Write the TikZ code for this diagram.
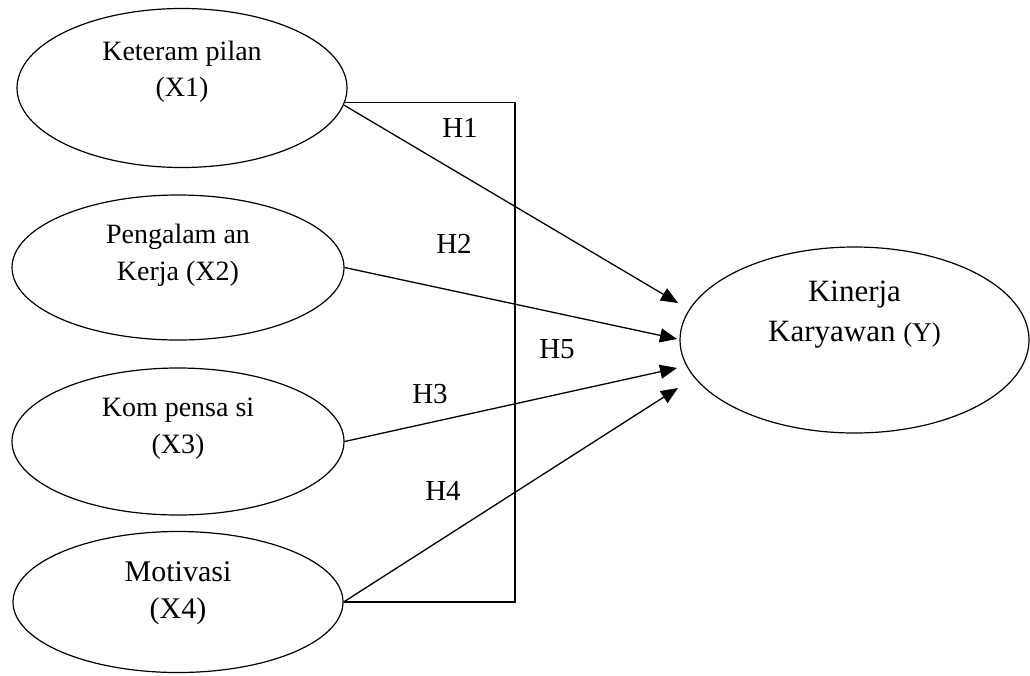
\documentclass[tikz,border=0pt]{standalone}
\usepackage{fontspec}
\setmainfont{Liberation Serif}
\usetikzlibrary{shapes.geometric,arrows.meta}
\tikzset{
  var/.style={ellipse, draw, line width=1.2pt, inner sep=0pt},
  arr/.style={line width=1.3pt, -{Triangle[length=17pt,width=14pt]}},
  brk/.style={line width=1.3pt},
  hlab/.style={anchor=base, font=\fontsize{29}{35}\selectfont, inner sep=0pt},
}
\newcommand{\twolines}[2]{\begin{tabular}[t]{@{}c@{}}#1\\#2\end{tabular}}
\begin{document}
\begin{tikzpicture}[x=1pt,y=-1pt]
\useasboundingbox (0,0) rectangle (1030,675);
\node[var, minimum width=330pt, minimum height=159pt,
  label={[anchor=base, yshift=17pt, font=\fontsize{28}{36}\selectfont]center:{\twolines{Keteram pilan}{(X1)}}}] (X1) at (182,88) {};
\node[var, minimum width=332pt, minimum height=145pt,
  label={[anchor=base, yshift=12.5pt, font=\fontsize{28}{37}\selectfont]center:{\twolines{Pengalam an}{Kerja (X2)}}}] (X2) at (178,267.5) {};
\node[var, minimum width=332pt, minimum height=147pt,
  label={[anchor=base, yshift=13.5pt, font=\fontsize{28}{37}\selectfont]center:{\twolines{Kom pensa si}{(X3)}}}] (X3) at (178,441.5) {};
\node[var, minimum width=330pt, minimum height=141pt,
  label={[anchor=base, yshift=9pt, font=\fontsize{30}{37}\selectfont]center:{\twolines{Motivasi}{(X4)}}}] (X4) at (178,602) {};
\node[var, minimum width=349pt, minimum height=186pt,
  label={[anchor=base, yshift=27pt, font=\fontsize{31}{40}\selectfont]center:{\twolines{Kinerja}{Karyawan {\fontsize{27}{40}\selectfont(Y)}}}}] (Y) at (854.5,340) {};

\coordinate (t1) at (678,303);
\coordinate (t2) at (677,339);
\coordinate (t3) at (677,368);
\coordinate (t4) at (678,388);
\coordinate (br) at (515,350);

\draw[brk] (X1.-5) -| (br) |- (X4.east);
\draw[arr] (X1.-6) -- (t1);
\draw[arr] (X2.east) -- (t2);
\draw[arr] (X3.east) -- (t3);
\draw[arr] (X4.east) -- (t4);

\node[hlab] (h1) at (460,137) {H1};
\node[hlab] (h2) at (454,253) {H2};
\node[hlab] (h5) at (557,358) {H5};
\node[hlab] (h3) at (430,403) {H3};
\node[hlab] (h4) at (443,500) {H4};
\end{tikzpicture}
\end{document}
